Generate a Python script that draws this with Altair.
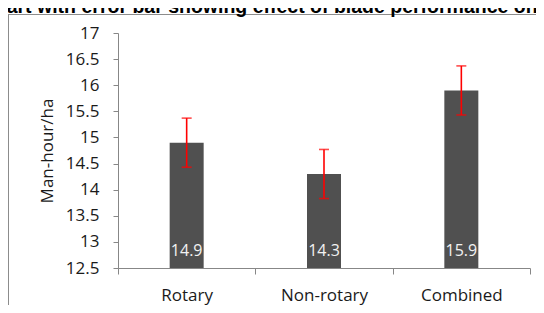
import altair as alt
import pandas as pd

categories = ["Rotary", "Non-rotary", "Combined"]
values = [14.9, 14.3, 15.9]
errors = [0.47, 0.47, 0.47]
y_ticks = [12.5, 13, 13.5, 14, 14.5, 15, 15.5, 16, 16.5, 17]
title_text = "Bar chart with error bar showing effect of blade performance on cost"
y_title = "Man-hour/ha"

df = pd.DataFrame({
    "cat": categories,
    "val": values,
    "lo": [v - e for v, e in zip(values, errors)],
    "hi": [v + e for v, e in zip(values, errors)],
})

FONT = "Open Sans"
TXT = "#1a1a1a"
AX = "#878787"

x_axis = alt.Axis(title=None, labelAngle=0, tickBand="extent", tickSize=6,
                  labelPadding=13, labelFont=FONT, labelFontSize=17,
                  labelColor=TXT, domainColor=AX, tickColor=AX, grid=False)
x_scale = alt.Scale(paddingInner=0, paddingOuter=0)
x_enc = alt.X("cat:N", sort=categories, scale=x_scale, axis=x_axis)

y_scale = alt.Scale(domain=[12.5, 17], zero=False, nice=False)
y_axis = alt.Axis(title=y_title, values=y_ticks, format=".1~f", tickSize=5,
                  labelOverlap=False, labelBound=False,
                  labelPadding=14, labelFont=FONT, labelFontSize=17,
                  labelColor=TXT, titleFont=FONT, titleFontSize=17,
                  titleFontWeight="normal", titleColor=TXT, titlePadding=9,
                  domainColor=AX, tickColor=AX, grid=False)


def yq(field):
    return alt.Y(field, type="quantitative", scale=y_scale, axis=y_axis)


base = alt.Chart(df)

bars = base.mark_bar(color="#505050", size=34).encode(
    x=x_enc, y=yq("val"), y2=alt.datum(12.5)
)

labels = base.mark_text(color="#f2f2f2", font=FONT, fontSize=16, dy=-17,
                        baseline="middle").encode(
    x=x_enc,
    y=alt.Y(datum=12.5, type="quantitative", scale=y_scale, axis=y_axis),
    text=alt.Text("val:Q", format=".1f"),
)

stems = base.mark_rule(color="#ff0000", strokeWidth=1.6).encode(
    x=x_enc, y=yq("lo"), y2="hi:Q"
)
cap_lo = base.mark_tick(color="#ff0000", thickness=1.6, size=10).encode(
    x=x_enc, y=yq("lo")
)
cap_hi = base.mark_tick(color="#ff0000", thickness=1.6, size=10).encode(
    x=x_enc, y=yq("hi")
)

deco = alt.Chart(pd.DataFrame({"t": [title_text]}))
frame_top = deco.mark_rule(color="#8c8c8c", strokeWidth=1).encode(
    x=alt.value(-110), x2=alt.value(420), y=alt.value(-18.5)
)
frame_left = deco.mark_rule(color="#8c8c8c", strokeWidth=1).encode(
    x=alt.value(-109.5), y=alt.value(-18.5), y2=alt.value(280)
)
title = deco.mark_text(font="Liberation Sans", fontSize=19.5, fontWeight="bold",
                       align="left", baseline="alphabetic", color="#000000").encode(
    x=alt.value(-172), y=alt.value(-20), text="t:N"
)

chart = alt.layer(frame_top, frame_left, bars, labels, stems, cap_lo, cap_hi, title).properties(
    width=412, height=235,
    padding={"left": 110, "top": 25, "right": 6, "bottom": 37},
    autosize=alt.AutoSizeParams(type="none"),
).configure_view(stroke=None)

chart.save("out.html", embed_options={"renderer": "svg", "actions": False})
